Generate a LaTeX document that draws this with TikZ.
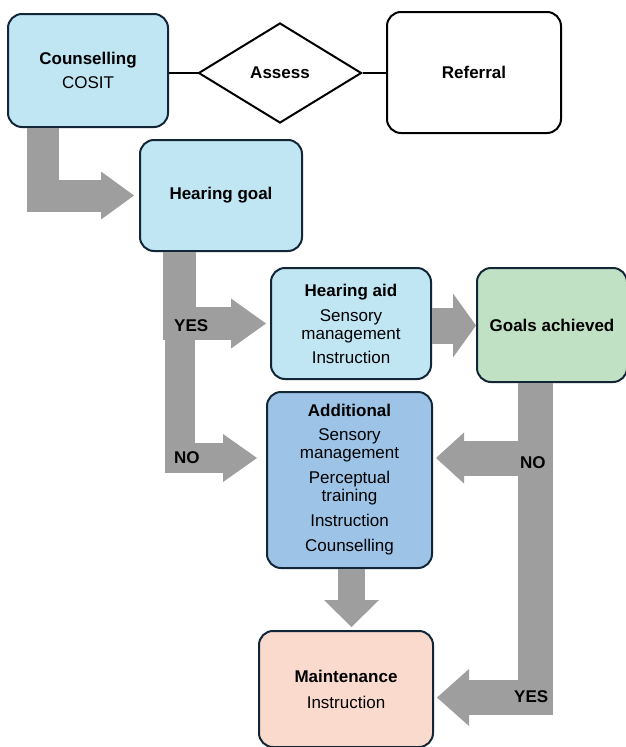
\documentclass[tikz,border=0pt]{standalone}
\usepackage{fontspec}
\setmainfont{Liberation Sans}
\usetikzlibrary{arrows.meta,shapes.geometric}

\definecolor{boxline}{RGB}{18,38,56}
\definecolor{lightblue}{RGB}{192,229,243}
\definecolor{midblue}{RGB}{157,195,230}
\definecolor{palegreen}{RGB}{193,225,197}
\definecolor{peach}{RGB}{249,218,205}
\definecolor{flowgrey}{RGB}{158,158,158}

\begin{document}
\begin{tikzpicture}[x=1pt, y=-1pt,
        box/.style={draw=boxline, line width=2pt, rounded corners=14pt, align=center,
            inner sep=0pt, font=\fontsize{17pt}{18pt}\selectfont},
        flow/.style={draw=flowgrey, line width=#1, line join=miter},
        bigtip/.style 2 args={-{Triangle[width=#1, length=#2, line width=0pt]}},
        lab/.style={anchor=west, inner sep=0pt, font=\fontsize{17pt}{18pt}\selectfont\bfseries}]
        \useasboundingbox (0,0) rectangle (626,747);

        % boxes
        \node[box, fill=lightblue, minimum width=160pt, minimum height=113pt] (cou) at (88,70.5)
            {\textbf{Counselling}\\[6pt]COSIT};
        \node[draw=black, line width=2pt, diamond, inner sep=0pt, minimum width=163pt, minimum height=100pt,
            font=\fontsize{17pt}{18pt}\selectfont\bfseries] (ass) at (280,73) {Assess};
        \node[box, draw=black, minimum width=174pt, minimum height=121pt] (ref) at (474,72.5)
            {\textbf{Referral}};
        \node[box, fill=lightblue, minimum width=162pt, minimum height=111pt] (goal) at (221,195.5)
            {\textbf{Hearing goal}};
        \node[box, fill=lightblue, minimum width=160pt, minimum height=111pt] (aid) at (351,323.5)
            {\textbf{Hearing aid}\\[7pt]Sensory\\management\\[6pt]Instruction};
        \node[box, fill=palegreen, minimum width=150pt, minimum height=114pt] (ach) at (552,325)
            {\textbf{Goals achieved}};
        \node[box, fill=midblue, minimum width=165pt, minimum height=176pt] (add) at (349.5,480)
            {\textbf{Additional}\\[6pt]Sensory\\management\\[7pt]Perceptual\\training\\[7pt]Instruction\\[7pt]Counselling};
        \node[box, fill=peach, minimum width=174pt, minimum height=116pt] (mai) at (346,689)
            {\textbf{Maintenance}\\[8pt]Instruction};

        \draw[black, line width=1.5pt] ([yshift=-2.5pt]cou.east) -- (ass.west);
        \draw[black, line width=1.5pt] (ass.east) -- ([yshift=-0.5pt]ref.west);

        % grey flow arrows
        \draw[flow=32pt, bigtip={48pt}{33pt}] ([xshift=-45pt]cou.south) |- ([xshift=-5pt]goal.west);
        \draw[flow=33pt, bigtip={50pt}{35pt}] ([xshift=-41.5pt]goal.south) |- ([xshift=-4pt]aid.west);
        \draw[flow=30pt, bigtip={48pt}{34pt}] ([xshift=-41.5pt]goal.south) |- ([xshift=-9pt,yshift=22pt]add.west);
        \draw[flow=36pt, bigtip={64pt}{23pt}] ([yshift=-2pt]aid.east) -- ([yshift=-0.5pt]ach.west);
        \draw[flow=35pt, bigtip={51pt}{28pt}] ([xshift=-16.5pt]ach.south) |- ([xshift=3pt,yshift=22pt]add.east);
        \draw[flow=35pt, bigtip={57pt}{32pt}] ([xshift=-16.5pt]ach.south) |- ([xshift=3pt,yshift=-8.5pt]mai.east);
        \draw[flow=27pt, bigtip={55pt}{27pt}] ([xshift=2pt]add.south) -- ([xshift=5.5pt,yshift=3pt]mai.north);

        % branch labels
        \node[lab] (lyes) at (174,326) {YES};
        \node[lab] (lno) at (174,458) {NO};
        \node[lab] (rno) at (520,463) {NO};
        \node[lab] (ryes) at (514,697) {YES};
    \end{tikzpicture}
\end{document}
